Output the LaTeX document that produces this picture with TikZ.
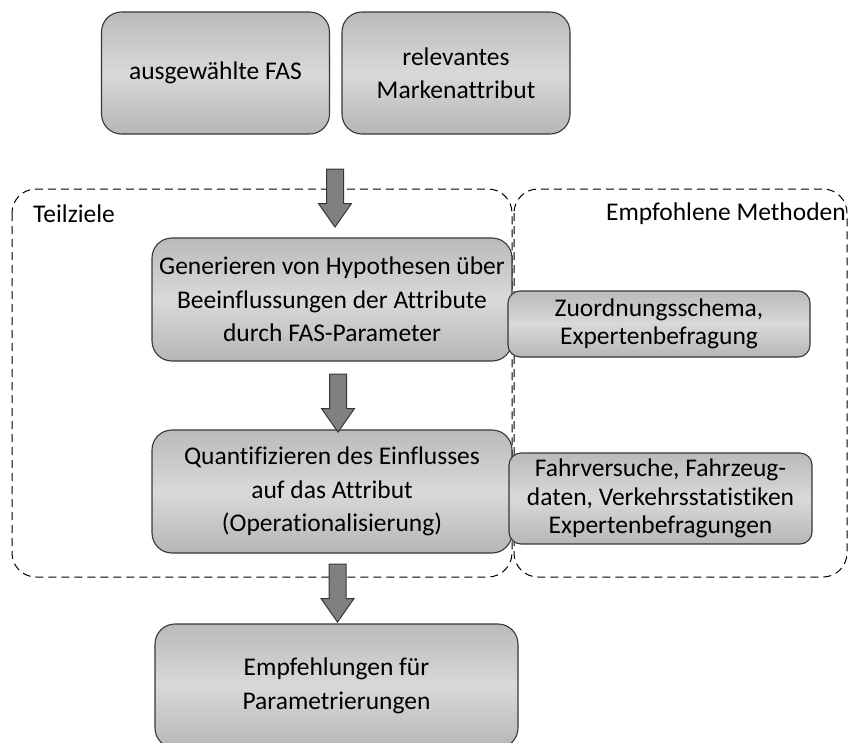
\documentclass[tikz,border=0pt]{standalone}
\usepackage{fontspec}
\setmainfont{Carlito}[Ligatures=NoCommon]
\usetikzlibrary{shapes.arrows}

\definecolor{boxtop}{RGB}{186,186,186}
\definecolor{boxmid}{RGB}{217,217,217}
\definecolor{boxbot}{RGB}{182,182,182}
\definecolor{boxline}{RGB}{55,55,55}
\definecolor{arrowfill}{RGB}{128,128,128}

\begin{document}
\begin{tikzpicture}[
        x=1pt, y=-1pt,
        box/.style={draw=boxline, line width=1.1pt, rounded corners=20pt,
            top color=boxtop, bottom color=boxbot, middle color=boxmid,
            align=center, inner sep=0pt,
            font=\fontsize{25.5}{33.5}\selectfont},
        methbox/.style={box, rounded corners=12pt,
            font=\fontsize{25.5}{28.5}\selectfont},
        region/.style={draw=black, dash pattern=on 8pt off 5pt,
            line width=1pt, rounded corners=24pt},
        title/.style={inner sep=0pt, font=\fontsize{25.5}{30}\selectfont},
        flowarrow/.style={single arrow, draw=boxline, fill=arrowfill,
            line width=1pt, rotate=-90, inner xsep=0pt, inner ysep=8pt,
            minimum height=58pt,
            single arrow head extend=8pt, single arrow tip angle=70},
        ]
        \useasboundingbox (0,0) rectangle (848,742);

        % Regions
        \draw[region] (12,189) rectangle (512,577);
        \draw[region] (514,189) rectangle (847,577);
        \node[title, anchor=west] (goals) at (33,214) {Teilziele};
        \node[title, anchor=east] (methods) at (846,214) {Empfohlene Methoden};

        % Inputs
        \node[box, minimum width=228pt, minimum height=122pt] (fas) at (215.5,73) {ausgewählte FAS};
        \node[box, minimum width=228pt, minimum height=122pt] (attr) at (456,73) {relevantes\\Markenattribut};

        % Steps
        \node[box, minimum width=360pt, minimum height=123pt] (hypo) at (332,299.5)
            {Generieren von Hypothesen über\\Beeinflussungen der Attribute\\durch FAS-Parameter};
        \node[box, minimum width=360pt, minimum height=123pt] (quant) at (332,491.5)
            {Quantifizieren des Einflusses\\auf das Attribut\\(Operationalisierung)};
        \node[box, minimum width=363pt, minimum height=124pt] (recom) at (336.5,686)
            {Empfehlungen für\\Parametrierungen};

        % Methods
        \node[methbox, minimum width=302pt, minimum height=66pt] (assign) at (659,324)
            {Zuordnungsschema,\\Expertenbefragung};
        \node[methbox, minimum width=303pt, minimum height=91pt] (tests) at (660.5,498.5)
            {Fahrversuche, Fahrzeug-\\daten, Verkehrsstatistiken\\Expertenbefragungen};

        % Arrows
        \node[flowarrow] (a1) at (335,192) {};
        \node[flowarrow] (a2) at (338,397) {};
        \node[flowarrow] (a3) at (337.5,587) {};

    \end{tikzpicture}
\end{document}
